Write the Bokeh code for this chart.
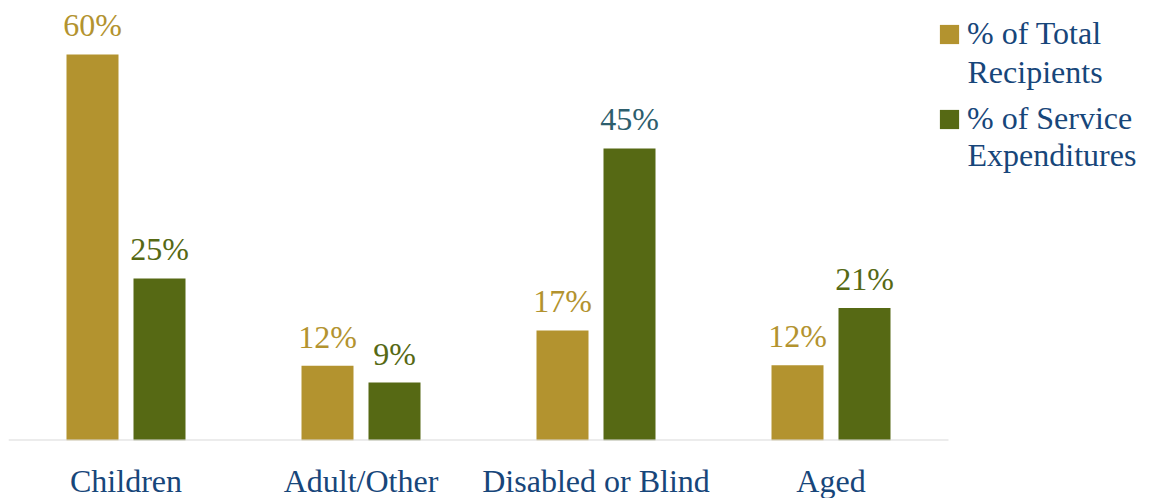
from bokeh.plotting import figure
from bokeh.models import ColumnDataSource, FixedTicker, Legend, LegendItem, Range1d, Label
from bokeh.transform import dodge
from bokeh.core.properties import value
from bokeh.embed import file_html
from bokeh.resources import INLINE

categories = ["Children", "Adult/Other", "Disabled or Blind", "Aged"]
pct_recipients = [60.0, 11.6, 17.1, 11.7]
pct_expenditures = [25.2, 9.0, 45.4, 20.6]
recipient_labels = ["60%", "12%", "17%", "12%"]
expenditure_labels = ["25%", "9%", "45%", "21%"]
series_line1 = ["% of Total", "% of Service"]
series_line2 = ["Recipients", "Expenditures"]

GOLD = "#b3932f"
GREEN = "#566914"
NAVY = "#17467a"
FONT = "Liberation Serif"

xs = list(range(len(categories)))
src = ColumnDataSource(dict(
    x=xs, rec=pct_recipients, exp=pct_expenditures,
    rec_lbl=recipient_labels, exp_lbl=expenditure_labels,
    exp_col=[GREEN, GREEN, "#2d5e6d", GREEN],
))

FW, FH = 1144, 432
p = figure(frame_width=FW, frame_height=FH, output_backend="svg", toolbar_location=None,
           x_range=Range1d(-0.5, -0.5 + FW / 235), y_range=Range1d(0, 67.15),
           min_border_left=8, min_border_right=0, min_border_top=8, min_border_bottom=50)
p.outline_line_color = None
p.grid.visible = False
p.yaxis.visible = False
p.background_fill_color = "white"
p.border_fill_color = "white"

BW = 52 / 235
OFF = 33.5 / 235
r1 = p.vbar(x=dodge("x", -OFF), top="rec", width=BW, source=src, fill_color=GOLD, line_color=None)
r2 = p.vbar(x=dodge("x", OFF), top="exp", width=BW, source=src, fill_color=GREEN, line_color=None)

p.segment(x0=[xs[0] - 0.5], x1=[xs[-1] + 0.5], y0=[0], y1=[0], line_color="#d9d9d9", line_width=2)

p.text(x=dodge("x", -OFF), y="rec", text="rec_lbl", source=src, text_align="center",
       text_baseline="alphabetic", y_offset=-29, text_font=value(FONT), text_font_size="32px",
       text_color=GOLD)
p.text(x=dodge("x", OFF), y="exp", text="exp_lbl", source=src, text_align="center",
       text_baseline="alphabetic", y_offset=-29, text_font=value(FONT), text_font_size="32px",
       text_color="exp_col")

ax = p.xaxis[0]
ax.ticker = FixedTicker(ticks=xs)
ax.major_label_overrides = {i: c for i, c in zip(xs, categories)}
ax.axis_line_color = None
ax.major_tick_line_color = None
ax.minor_tick_line_color = None
ax.major_label_standoff = 16
ax.major_label_text_font = FONT
ax.major_label_text_font_size = "32px"
ax.major_label_text_color = NAVY

legend = Legend(items=[LegendItem(label=series_line1[0], renderers=[r1]),
                       LegendItem(label=series_line1[1], renderers=[r2])],
                location=(929, 303), orientation="vertical",
                glyph_width=24, glyph_height=24, label_standoff=6, spacing=48,
                padding=0, margin=0, border_line_color=None, background_fill_alpha=0,
                label_text_font=FONT, label_text_font_size="32px", label_text_color=NAVY)
p.add_layout(legend)

for txt, yb in zip(series_line2, [369, 286]):
    p.add_layout(Label(x=959, y=yb, x_units="screen", y_units="screen", text=txt,
                       text_font=FONT, text_font_size="32px", text_color=NAVY,
                       text_baseline="alphabetic", text_align="left"))

open("out.html", "w").write(file_html(p, INLINE))
